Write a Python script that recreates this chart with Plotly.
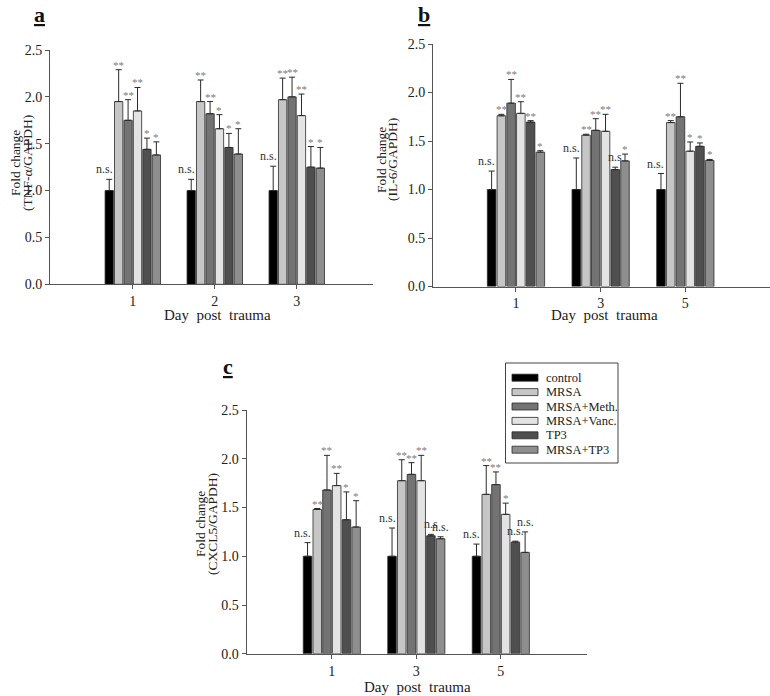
import plotly.graph_objects as go

W, H = 770, 696

series = ["control", "MRSA", "MRSA+Meth.", "MRSA+Vanc.", "TP3", "MRSA+TP3"]
colors = ["#000000", "#c6c6c6", "#737373", "#e3e3e3", "#4f4f4f", "#8e8e8e"]

days_a = ["1", "2", "3"]
days_bc = ["1", "3", "5"]

# Panel a: TNF-alpha (one list per series, values per day)
tnf_mean = [[1.00, 1.00, 1.00],
            [1.95, 1.95, 1.97],
            [1.75, 1.82, 2.00],
            [1.85, 1.66, 1.80],
            [1.44, 1.46, 1.25],
            [1.38, 1.39, 1.24]]
tnf_err = [[0.12, 0.12, 0.26],
           [0.34, 0.23, 0.23],
           [0.22, 0.13, 0.21],
           [0.25, 0.15, 0.23],
           [0.12, 0.15, 0.22],
           [0.14, 0.27, 0.22]]
tnf_sig = [["n.s.", "n.s.", "n.s."],
           ["**", "**", "**"],
           ["**", "**", "**"],
           ["**", "*", "**"],
           ["*", "*", "*"],
           ["*", "*", "*"]]

# Panel b: IL-6
il6_mean = [[1.00, 1.00, 1.00],
            [1.76, 1.56, 1.69],
            [1.89, 1.61, 1.75],
            [1.785, 1.60, 1.395],
            [1.695, 1.205, 1.445],
            [1.385, 1.295, 1.30]]
il6_err = [[0.19, 0.325, 0.165],
           [0.015, 0.01, 0.02],
           [0.245, 0.12, 0.345],
           [0.12, 0.175, 0.095],
           [0.015, 0.025, 0.035],
           [0.015, 0.07, 0.01]]
il6_sig = [["n.s.", "n.s.", "n.s."],
           ["**", "**", "**"],
           ["**", "**", "**"],
           ["**", "**", "*"],
           ["**", "n.s", "*"],
           ["*", "*", "*"]]

# Panel c: CXCL5
cxcl5_mean = [[1.00, 1.00, 1.00],
              [1.48, 1.775, 1.635],
              [1.68, 1.84, 1.735],
              [1.725, 1.775, 1.43],
              [1.375, 1.21, 1.145],
              [1.30, 1.18, 1.04]]
cxcl5_err = [[0.14, 0.29, 0.125],
             [0.01, 0.215, 0.295],
             [0.355, 0.12, 0.13],
             [0.125, 0.26, 0.115],
             [0.285, 0.015, 0.01],
             [0.27, 0.02, 0.21]]
cxcl5_sig = [["n.s.", "n.s.", "n.s."],
             ["**", "**", "**"],
             ["**", "**", "**"],
             ["**", "**", "*"],
             ["*", "n.s", "n.s."],
             ["*", "n.s.", "n.s."]]

y_ticks = [0.0, 0.5, 1.0, 1.5, 2.0, 2.5]

FONT = "Liberation Serif"
TXT = "#222222"
BARGAP = 0.31


def px(x):
    return x / W


def py(y):
    return 1 - y / H


panels = [
    dict(ax="", days=days_a, mean=tnf_mean, err=tnf_err, sig=tnf_sig,
         xd=(50, 373), yd=(284.3, 50), xr=[-1.01, 2.93],
         label="a", lab_xy=(39, 14.5),
         ytitle=("Fold change", "(TNF-α/GAPDH)"), yt_x=(15, 27), yt_y=163,
         xt_xy=(217, 315)),
    dict(ax="2", days=days_bc, mean=il6_mean, err=il6_err, sig=il6_sig,
         xd=(433, 770), yd=(286.5, 44), xr=[-0.98, 3.0],
         label="b", lab_xy=(424, 14.5),
         ytitle=("Fold change", "(IL-6/GAPDH)"), yt_x=(382, 393), yt_y=160,
         xt_xy=(604, 315)),
    dict(ax="3", days=days_bc, mean=cxcl5_mean, err=cxcl5_err, sig=cxcl5_sig,
         xd=(246.5, 587), yd=(653.8, 410), xr=[-1.01, 3.02],
         label="c", lab_xy=(228, 366),
         ytitle=("Fold change", "(CXCL5/GAPDH)"), yt_x=(200, 212), yt_y=524,
         xt_xy=(417, 687)),
]

fig = go.Figure()
annotations = []
shapes = []

n = len(series)
slot = (1 - BARGAP) / n

for p in panels:
    xa = "x" + p["ax"]
    ya = "y" + p["ax"]
    xpos = list(range(len(p["days"])))
    for i, name in enumerate(series):
        fig.add_trace(go.Bar(
            x=xpos, y=p["mean"][i], name=name, xaxis=xa, yaxis=ya,
            offsetgroup=str(i), showlegend=False,
            marker=dict(color=colors[i], line=dict(color="#2a2a2a", width=0.8)),
            error_y=dict(type="data", symmetric=False, array=p["err"][i],
                         arrayminus=[0] * len(xpos), color="#2a2a2a",
                         thickness=1, width=3),
        ))
        off = -(1 - BARGAP) / 2 + slot * (i + 0.5)
        for j, d in enumerate(xpos):
            txt = p["sig"][i][j]
            top = p["mean"][i][j] + p["err"][i][j]
            is_ns = txt.startswith("n.s")
            annotations.append(dict(
                x=d + off, y=top, xref=xa, yref=ya, text=txt, showarrow=False,
                xanchor="center", yanchor="bottom",
                xshift=-5 if i == 0 else 0, yshift=1 if is_ns else -3,
                font=dict(family=FONT, size=12 if is_ns else 11,
                          color="#333333" if is_ns else "#7a7a7a"),
            ))

    suffix = p["ax"]
    xkey = "xaxis" + suffix
    ykey = "yaxis" + suffix
    fig.update_layout(**{
        xkey: dict(domain=[px(p["xd"][0]), px(p["xd"][1])], anchor=ya,
                   range=p["xr"], tickmode="array", tickvals=xpos,
                   ticktext=p["days"], ticks="outside", ticklen=4,
                   tickcolor="#555555", showline=True, linecolor="#555555",
                   linewidth=1, showgrid=False, zeroline=False,
                   automargin=False,
                   tickfont=dict(family=FONT, size=14, color=TXT),
                   fixedrange=True),
        ykey: dict(domain=[py(p["yd"][0]), py(p["yd"][1])], anchor=xa,
                   range=[0, 2.5], tickmode="array", tickvals=y_ticks,
                   ticktext=["%.1f" % v for v in y_ticks], ticks="outside",
                   ticklen=4, tickcolor="#555555", showline=True,
                   linecolor="#555555", linewidth=1, showgrid=False,
                   zeroline=False, automargin=False,
                   tickfont=dict(family=FONT, size=14, color=TXT),
                   fixedrange=True),
    })

    # panel letter
    annotations.append(dict(
        x=px(p["lab_xy"][0]), y=py(p["lab_xy"][1]), xref="paper", yref="paper",
        text="<b><u>%s</u></b>" % p["label"], showarrow=False,
        xanchor="center", yanchor="middle",
        font=dict(family=FONT, size=22, color="#111111")))
    # x title
    annotations.append(dict(
        x=px(p["xt_xy"][0]), y=py(p["xt_xy"][1]), xref="paper", yref="paper",
        text="Day\u00a0 post\u00a0 trauma", showarrow=False,
        xanchor="center", yanchor="middle",
        font=dict(family=FONT, size=15, color=TXT)))
    # y title (two rotated lines)
    for k in range(2):
        annotations.append(dict(
            x=px(p["yt_x"][k]), y=py(p["yt_y"]), xref="paper", yref="paper",
            text=p["ytitle"][k], showarrow=False, textangle=-90,
            xanchor="center", yanchor="middle",
            font=dict(family=FONT, size=13.5, color=TXT)))

# Legend drawn as a box inside panel c
shapes.append(dict(type="rect", xref="paper", yref="paper",
                   x0=px(505.5), x1=px(618), y0=py(463), y1=py(363),
                   line=dict(color="#444444", width=1), fillcolor="white"))
rows_y = [377.7, 392.1, 406.5, 420.9, 435.3, 449.7]
for i, name in enumerate(series):
    yy = rows_y[i]
    shapes.append(dict(type="rect", xref="paper", yref="paper",
                       x0=px(512), x1=px(538), y0=py(yy + 3.5), y1=py(yy - 3.5),
                       line=dict(color="#2a2a2a", width=0.8),
                       fillcolor=colors[i]))
    annotations.append(dict(
        x=px(544), y=py(yy), xref="paper", yref="paper", text=name,
        showarrow=False, xanchor="left", yanchor="middle",
        font=dict(family=FONT, size=12.5, color=TXT)))

fig.update_layout(
    width=W, height=H, margin=dict(l=0, r=0, t=0, b=0),
    paper_bgcolor="white", plot_bgcolor="rgba(0,0,0,0)",
    barmode="group", bargap=BARGAP, bargroupgap=0.12,
    showlegend=False, annotations=annotations, shapes=shapes,
    font=dict(family=FONT, color=TXT),
)

fig.write_html(
    "out.html", config={"displayModeBar": False},
    post_script="document.body.style.margin='0';"
                "document.body.style.padding='0';"
                "document.documentElement.style.overflow='hidden';",
)
